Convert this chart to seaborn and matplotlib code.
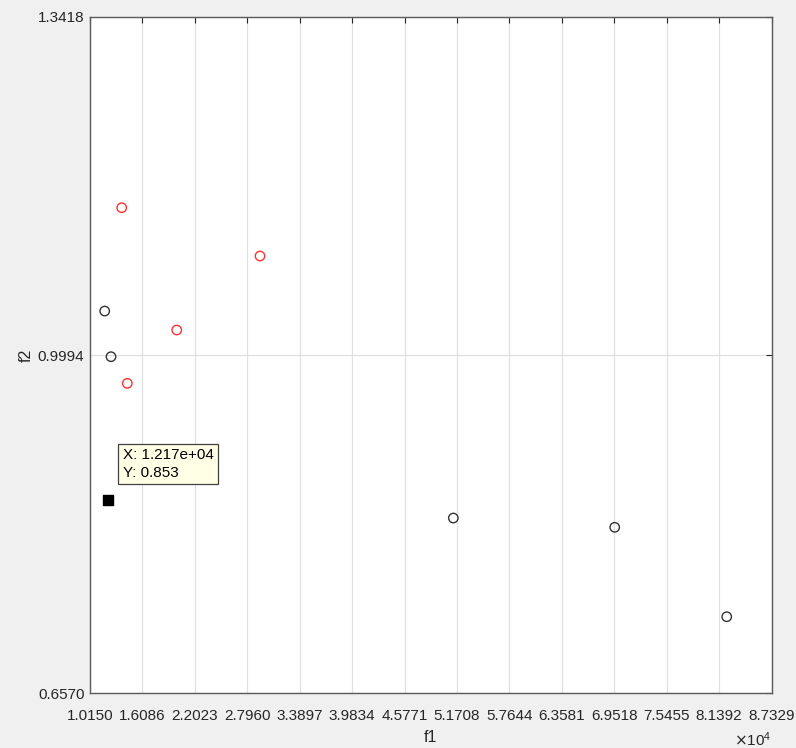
import matplotlib
matplotlib.use("Agg")
import matplotlib.pyplot as plt
import seaborn as sns
import pandas as pd

# Objective values (f1 in raw units, f2 dimensionless)
black_f1 = [11815, 12528, 51294, 69570, 82256]
black_f2 = [1.0439, 0.9977, 0.8344, 0.8250, 0.7345]
red_f1 = [13740, 29400, 19970, 14374]
red_f2 = [1.1485, 1.0996, 1.0247, 0.9707]

# Selected point shown with a data tip
tip_f1 = 12170
tip_f2 = 0.853

# Axis ticks
x_ticks = [10150, 16086, 22023, 27960, 33897, 39834, 45771, 51708,
           57644, 63581, 69518, 75455, 81392, 87329]
y_ticks = [0.6570, 0.9994, 1.3418]

df = pd.DataFrame({
    "f1": black_f1 + red_f1,
    "f2": black_f2 + red_f2,
    "group": ["black"] * len(black_f1) + ["red"] * len(red_f1),
})

sns.set_style("white")
plt.rcParams["font.family"] = ["Liberation Sans", "DejaVu Sans"]

fig = plt.figure(figsize=(7.96, 7.48), dpi=100, facecolor="#f0f0f0")
ax = fig.add_axes([0.11307, 0.07313, 0.8562, 0.9045])
ax.set_facecolor("white")

edge = {"black": "#333333", "red": "#ff3030"}
sns.scatterplot(data=df, x="f1", y="f2", hue="group", palette=edge,
                legend=False, ax=ax, s=46, marker="o",
                facecolors="none", linewidth=1.0, zorder=3)
# open circles: edge colour follows the group colour
for coll in ax.collections:
    coll.set_edgecolors(coll.get_facecolors())
    coll.set_facecolors("none")

ax.scatter([tip_f1], [tip_f2], marker="s", s=60, color="black", zorder=4)
ax.annotate(f"X: {tip_f1:.3e}\nY: {tip_f2:.3f}",
            xy=(tip_f1, tip_f2), xytext=(15, 20), textcoords="offset pixels",
            ha="left", va="bottom", fontsize=11, color="black",
            linespacing=1.3,
            bbox=dict(boxstyle="square,pad=0.3", fc="#ffffe6",
                      ec="#404040", lw=0.9), zorder=5)

ax.set_xlim(x_ticks[0], x_ticks[-1])
ax.set_ylim(y_ticks[0], y_ticks[-1])
ax.set_xticks(x_ticks)
ax.set_xticklabels([f"{v / 1e4:.4f}" for v in x_ticks])
ax.set_yticks(y_ticks)
ax.set_yticklabels([f"{v:.4f}" for v in y_ticks])

ax.grid(True, color="#e0e0e0", linewidth=0.9)
ax.set_axisbelow(True)
ax.tick_params(direction="in", length=4, width=0.8, colors="#262626",
               labelsize=11, top=True, right=True)
ax.tick_params(axis="x", pad=11)
ax.tick_params(axis="y", pad=4)
for sp in ax.spines.values():
    sp.set_color("#5a5a5a")
    sp.set_linewidth(1.0)

ax.set_xlabel("f1", fontsize=11.5, color="#262626", labelpad=5)
ax.set_ylabel("f2", fontsize=11.5, color="#262626", labelpad=3)
ax.text(1.0, -0.068, r"$\times\mathregular{10^{4}}$", transform=ax.transAxes,
        ha="right", va="center", fontsize=11, color="#262626")

fig.savefig("out.png", dpi=100, facecolor=fig.get_facecolor())
